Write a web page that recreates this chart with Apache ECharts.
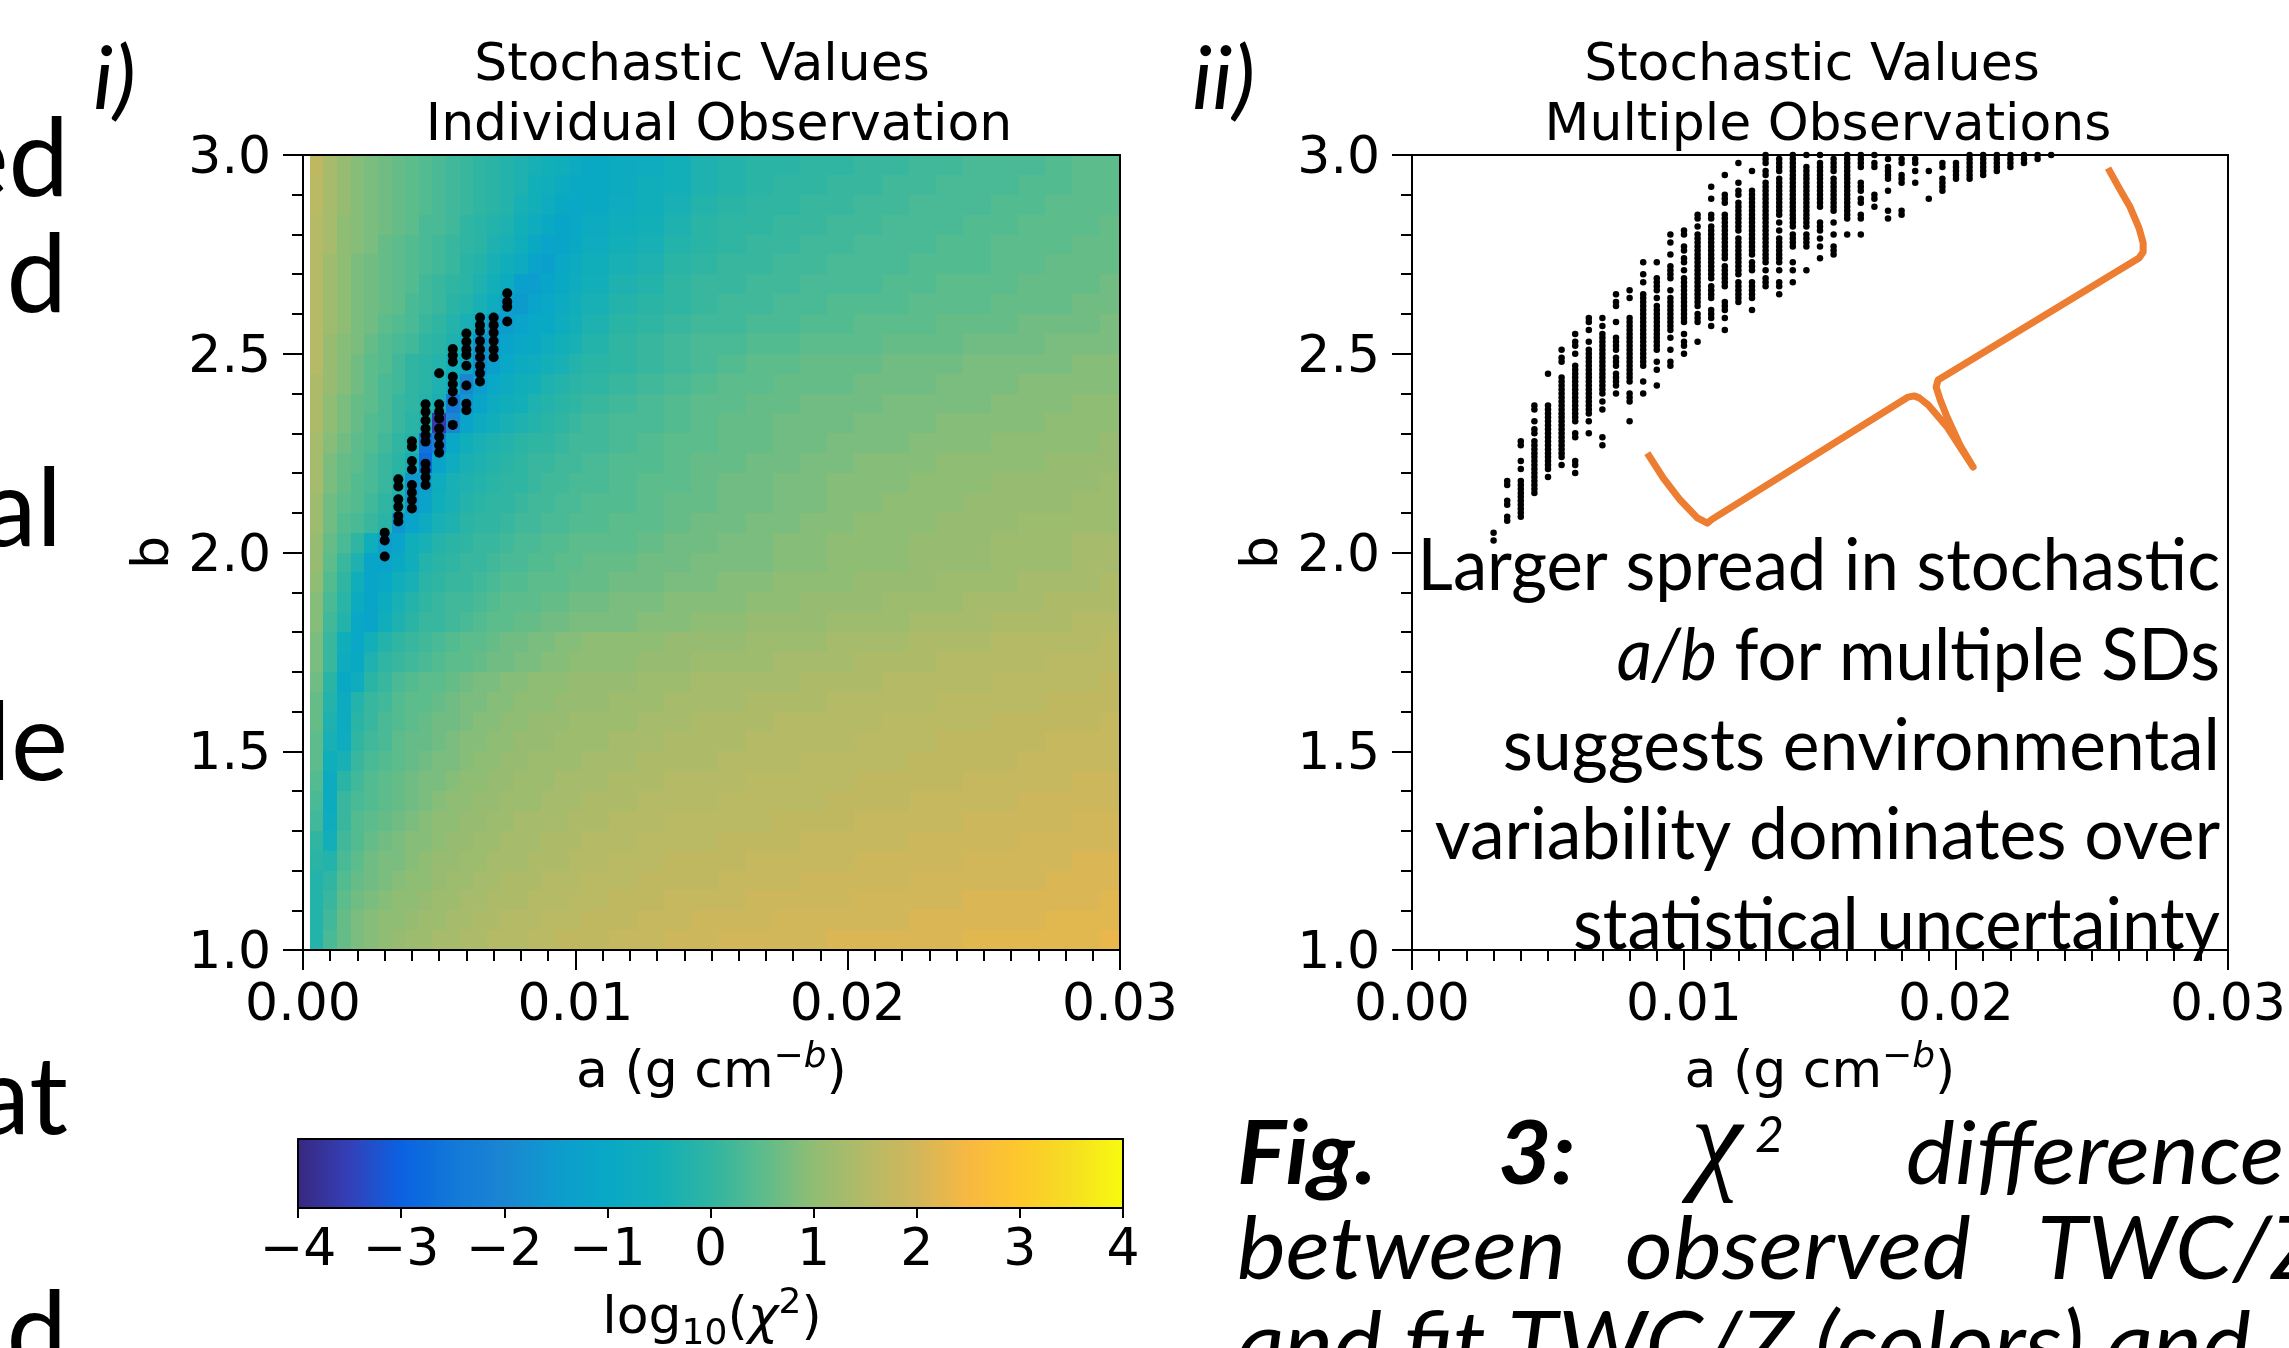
<!DOCTYPE html>
<html><head><meta charset="utf-8">
<style>html,body{margin:0;padding:0;background:#fff;overflow:hidden}#c{width:2289px;height:1348px}</style>
<script src="https://cdn.jsdelivr.net/npm/echarts@6/dist/echarts.min.js"></script>
</head><body><div id="c"></div>
<script>
// heat-map cell edges (a along x, b along y, top row first)
const aEdges = [.00025,.00075,.00125,.00175,.00225,.00275,.00325,.00375,.00425,.00475,.00525,.00575,.00625,.00675,.00725,.00775,.00825,.00875,.00925,.00975,.01025,
 .01125,.01225,.01325,.01425,.01525,.01625,.01725,.01825,.01925,.02025,.02125,.02225,.02325,.02425,.02525,.02625,.02725,.02825,.02925,.03];
const bEdges = [3,2.95,2.9,2.85,2.8,2.75,2.7,2.65,2.6,2.55,2.5,2.45,2.4,2.35,2.3,2.25,2.2,2.15,2.1,2.05,2,1.95,1.9,1.85,1.8,1.75,1.7,1.65,1.6,1.55,1.5,1.45,1.4,1.35,1.3,1.25,1.2,1.15,1.1,1.05,1];
// log10(chi2), in tenths; one row per b band, top row first
const logChi2Tenths = [
[17,13,11,9,8,7,6,5,4,3,2,1,0,-1,-2,-3,-4,-5,-6,-8,-9,-8,-7,-5,-3,-2,-1,-1,0,0,1,1,2,2,3,3,3,4,5,5],
[16,13,11,9,8,7,6,5,4,3,2,1,0,-1,-2,-3,-5,-6,-8,-9,-9,-8,-6,-5,-3,-2,-1,0,0,1,1,2,2,3,3,3,4,4,5,5],
[16,13,11,9,8,7,6,5,4,3,2,1,0,-1,-2,-4,-5,-7,-9,-10,-9,-7,-6,-4,-2,-1,0,0,1,1,2,2,3,3,3,4,4,5,5,5],
[15,13,10,9,8,7,6,5,3,3,2,0,-1,-2,-3,-5,-7,-9,-11,-10,-8,-6,-5,-3,-1,0,0,1,1,2,2,3,3,3,4,4,5,5,5,6],
[15,13,10,9,8,6,5,4,3,2,1,0,-1,-3,-4,-6,-9,-12,-11,-9,-7,-5,-4,-2,-1,0,1,1,2,2,3,3,3,4,4,5,5,5,6,6],
[15,12,10,8,7,6,5,4,3,2,1,-1,-2,-4,-6,-8,-12,-13,-10,-8,-6,-4,-3,-1,0,1,1,2,2,3,3,3,4,4,4,5,5,6,6,6],
[15,12,10,8,7,6,5,4,2,1,0,-1,-3,-5,-8,-13,-14,-11,-9,-7,-5,-3,-2,0,1,1,2,2,3,3,3,4,4,5,5,5,6,6,6,7],
[15,12,10,8,7,6,5,3,2,1,-1,-2,-4,-7,-14,-15,-12,-10,-8,-6,-4,-2,-1,0,1,2,2,3,3,4,4,4,5,5,5,6,6,6,7,7],
[15,12,10,8,7,5,4,3,1,0,-2,-4,-7,-16,-14,-12,-10,-9,-7,-5,-3,-1,0,1,2,2,3,3,4,4,5,5,5,6,6,6,7,7,7,8],
[15,11,9,8,6,4,3,2,0,-1,-3,-5,-17,-15,-12,-10,-9,-7,-5,-4,-2,0,1,2,3,3,4,4,5,5,5,6,6,6,7,7,7,8,8,8],
[15,11,9,7,5,4,2,0,-1,-2,-5,-9,-18,-13,-10,-8,-7,-5,-4,-2,-1,0,1,2,3,4,5,5,6,6,6,7,7,7,8,8,8,8,9,9],
[14,11,9,7,5,3,2,0,-1,-3,-7,-20,-14,-10,-8,-6,-5,-3,-2,-1,0,1,2,3,4,5,5,6,6,6,7,7,7,8,8,8,9,9,9,9],
[14,10,8,6,5,3,1,0,-2,-4,-24,-16,-11,-8,-6,-5,-3,-2,-1,0,1,2,3,4,5,5,6,6,7,7,7,8,8,8,8,9,9,9,10,10],
[14,10,8,6,4,3,1,-1,-3,-36,-20,-12,-8,-6,-4,-3,-2,-1,0,1,2,3,3,4,5,6,6,7,7,7,8,8,8,9,9,9,9,10,10,10],
[13,9,7,5,4,2,0,-2,-26,-22,-10,-6,-4,-3,-2,-1,0,0,1,2,2,3,4,5,5,6,6,7,7,8,8,8,9,9,9,10,10,10,10,11],
[13,8,6,5,3,1,-1,-5,-28,-12,-7,-4,-3,-2,-1,0,1,1,2,2,3,4,4,5,6,6,7,7,8,8,9,9,9,10,10,10,10,11,11,11],
[13,8,6,4,3,1,-2,-16,-14,-7,-4,-3,-2,-1,0,0,1,2,2,3,3,4,5,5,6,7,7,8,8,9,9,9,10,10,10,11,11,11,11,12],
[12,7,5,4,2,0,-3,-16,-12,-6,-4,-2,-1,0,0,1,2,2,3,3,4,4,5,6,6,7,7,8,8,9,9,10,10,10,11,11,11,11,12,12],
[12,7,4,3,1,-1,-16,-12,-8,-4,-3,-1,0,0,1,2,2,3,3,4,4,5,5,6,7,7,8,8,9,9,10,10,10,11,11,11,12,12,12,12],
[11,6,3,0,-6,-14,-12,-6,-4,-2,-1,0,1,1,2,3,3,4,4,5,5,5,6,7,7,8,8,9,9,10,10,10,11,11,11,12,12,12,13,13],
[11,5,1,-3,-11,-12,-9,-6,-2,-1,0,1,1,2,3,3,4,4,5,5,6,6,7,7,8,8,8,9,9,10,10,10,11,11,11,12,12,12,13,13],
[10,4,0,-6,-11,-10,-6,-4,-1,0,1,1,2,3,4,4,5,5,5,6,6,7,7,8,8,9,9,10,10,10,11,11,11,12,12,12,13,13,13,14],
[9,3,-1,-8,-11,-8,-4,-2,0,1,2,2,3,4,5,5,5,6,6,7,7,8,8,9,9,9,10,10,11,11,11,12,12,12,13,13,13,14,14,14],
[9,2,-2,-10,-11,-6,-3,-1,1,1,2,3,4,5,5,6,6,7,7,8,8,8,9,9,10,10,11,11,11,12,12,12,13,13,13,14,14,14,15,15],
[8,1,-6,-10,-5,-2,0,1,2,3,4,5,5,6,7,7,8,8,9,9,10,10,10,11,11,11,12,12,12,13,13,13,14,14,14,15,15,15,15,16],
[8,1,-7,-9,-3,0,1,2,3,4,5,5,6,7,7,8,8,9,9,10,10,10,11,11,12,12,12,13,13,13,14,14,14,15,15,15,15,16,16,16],
[7,-1,-9,-7,-1,1,3,4,5,5,6,7,8,8,9,9,10,10,10,11,11,11,12,12,13,13,13,13,14,14,14,15,15,15,15,16,16,16,16,17],
[6,-2,-8,-2,1,2,4,5,5,6,7,8,8,9,9,10,10,10,11,11,11,12,12,13,13,13,14,14,14,15,15,15,15,16,16,16,16,17,17,17],
[6,-3,-8,-1,1,3,4,5,6,7,7,8,9,9,10,10,11,11,11,12,12,12,13,13,14,14,14,15,15,15,15,16,16,16,16,17,17,17,17,18],
[5,-4,-7,0,2,3,5,6,6,7,8,9,9,10,10,11,11,11,12,12,12,13,13,14,14,14,15,15,15,15,16,16,16,17,17,17,17,18,18,18],
[5,-6,-4,1,3,4,5,6,7,8,8,9,10,10,11,11,12,12,12,12,13,13,14,14,14,15,15,15,16,16,16,16,17,17,17,17,18,18,18,18],
[4,-8,-1,2,4,5,6,7,8,8,9,10,10,11,11,12,12,12,13,13,13,14,14,15,15,15,16,16,16,16,17,17,17,17,18,18,18,18,19,19],
[3,-8,1,3,4,5,6,7,8,9,10,10,11,11,12,12,12,13,13,13,14,14,15,15,15,16,16,16,16,17,17,17,18,18,18,18,19,19,19,19],
[2,-7,1,4,5,6,7,8,9,10,10,11,11,12,12,13,13,13,13,14,14,15,15,16,16,16,16,17,17,17,18,18,18,18,19,19,19,19,20,20],
[0,-5,2,4,6,7,8,9,9,10,11,11,12,12,13,13,13,14,14,14,15,15,16,16,16,17,17,17,18,18,18,18,19,19,19,19,20,20,20,20],
[-1,-2,3,5,7,8,8,9,10,11,11,12,12,13,13,13,14,14,14,15,15,16,16,17,17,17,18,18,18,18,19,19,19,19,20,20,20,20,21,21],
[-2,0,4,6,7,8,9,10,10,11,12,12,13,13,14,14,14,15,15,15,16,16,17,17,17,18,18,18,19,19,19,19,20,20,20,20,20,21,21,21],
[-2,1,5,7,8,9,10,10,11,12,12,13,13,14,14,14,15,15,15,16,16,17,17,18,18,18,19,19,19,19,20,20,20,20,21,21,21,21,21,22],
[-2,2,6,8,9,10,10,11,12,12,13,13,14,14,15,15,15,16,16,16,17,17,18,18,19,19,19,20,20,20,20,20,21,21,21,21,21,22,22,22],
[-2,3,6,8,9,10,11,12,12,13,13,14,14,15,15,15,16,16,17,17,17,18,18,19,19,20,20,20,20,21,21,21,21,21,22,22,22,22,22,23]
];
// colours of the colour bar from -4 to 4, evenly spaced
const colorRamp = ['#38287f','#3440b8','#0a62e2','#1278d8','#1a86d2','#0d9bce','#08a8c6','#12afb8','#2fb5a2','#5cbc8c','#90bd74','#b4ba66','#d2b65a','#f8b842','#fdc82c','#f6de22','#f8fa0e'];
// panel i: stochastic (a, b) for the individual observation: [a, [b, ...]]
const singleColumns = [
[.003,[2.05,2.03,1.99]],
[.0035,[2.184,2.166,2.134,2.115,2.092,2.078]],
[.004,[2.28,2.266,2.23,2.209,2.17,2.151,2.132,2.111]],
[.0045,[2.373,2.354,2.332,2.312,2.295,2.279,2.223,2.206,2.189,2.17]],
[.005,[2.451,2.373,2.354,2.337,2.312,2.291,2.27,2.251]],
[.0055,[2.512,2.496,2.48,2.442,2.424,2.405,2.38,2.321]],
[.006,[2.551,2.53,2.511,2.497,2.47,2.42,2.374,2.358]],
[.0065,[2.591,2.572,2.557,2.532,2.511,2.491,2.47,2.451,2.43]],
[.007,[2.591,2.572,2.553,2.532,2.511,2.491]],
[.0075,[2.652,2.631,2.618,2.581]]
];
// panel ii: for each a, the b values or [high, low] runs of b on the 0.01 grid
const multiColumns = [
[.003,[2.05,2.03]],
[.0035,[[2.18,2.17],[2.13,2.12],[2.09,2.08]]],
[.004,[[2.28,2.27],2.23,2.21,[2.18,2.09]]],
[.0045,[[2.37,2.36],2.33,[2.31,2.30],[2.28,2.15]]],
[.005,[2.45,[2.37,2.21],2.19]],
[.0055,[2.51,[2.49,2.48],[2.44,2.24],2.22]],
[.006,[2.55,[2.53,2.52],2.50,[2.47,2.33],[2.30,2.29],[2.23,2.22],2.20]],
[.0065,[[2.59,2.58],2.56,2.53,[2.51,2.35],2.33,2.30]],
[.007,[2.59,2.57,[2.55,2.40],2.38,2.36,2.29,2.27]],
[.0075,[2.65,[2.63,2.62],2.58,[2.54,2.51],[2.49,2.47],[2.45,2.42],2.40]],
[.008,[2.66,2.64,[2.59,2.46],[2.45,2.43],[2.40,2.38],2.33]],
[.0085,[2.73,2.70,2.68,[2.65,2.47],2.43,2.40]],
[.009,[2.73,[2.69,2.66],2.64,[2.62,2.51],2.48,2.46,2.42]],
[.0095,[2.80,2.78,2.75,[2.72,2.69],2.66,[2.64,2.56],2.54,2.51,[2.48,2.47]]],
[.01,[[2.81,2.80],[2.77,2.76],[2.74,2.73],2.71,[2.69,2.65],[2.64,2.58],2.55,[2.53,2.52],2.50]],
[.0105,[[2.85,2.84],2.82,[2.80,2.71],[2.70,2.62],[2.60,2.58],2.53]],
[.011,[2.92,2.89,[2.85,2.84],[2.82,2.75],[2.74,2.69],[2.67,2.64],[2.61,2.59],2.57]],
[.0115,[2.95,[2.90,2.88],[2.85,2.74],[2.72,2.67],[2.63,2.61],2.59,2.56]],
[.012,[2.98,2.93,[2.91,2.90],[2.88,2.81],[2.79,2.70],[2.68,2.63]]],
[.0125,[2.96,[2.91,2.75],[2.73,2.71],[2.68,2.64],2.61]],
[.013,[[3.00,2.98],[2.96,2.95],[2.93,2.73],2.71,[2.69,2.67]]],
[.0135,[[2.99,2.96],[2.94,2.85],2.83,2.81,[2.79,2.73],2.71,[2.68,2.67],2.65]],
[.014,[[3.00,2.94],[2.93,2.82],[2.80,2.77],2.73,2.71,2.68]],
[.0145,[3.00,[2.97,2.82],[2.80,2.77],2.71]],
[.015,[3.00,[2.98,2.87],[2.83,2.81],2.79,2.77,2.74]],
[.0155,[[2.99,2.96],[2.94,2.89],[2.88,2.86],2.83,2.80,[2.77,2.75]]],
[.016,[[3.00,2.84],2.80]],
[.0165,[[3.00,2.97],[2.93,2.91],[2.89,2.88],[2.85,2.84],2.80]],
[.017,[3.00,[2.98,2.97],[2.90,2.89],2.87]],
[.0175,[2.99,[2.97,2.94],2.91,2.86,2.84]],
[.018,[[2.99,2.98],[2.95,2.93],[2.86,2.85]]],
[.0185,[[2.99,2.98],2.96,2.93]],
[.019,[2.96,2.89]],
[.0195,[[2.98,2.97],[2.94,2.91]]],
[.02,[[2.98,2.94]]],
[.0205,[[3.00,2.94]]],
[.021,[[3.00,2.95]]],
[.0215,[[3.00,2.96]]],
[.022,[[3.00,2.97]]],
[.0225,[[3.00,2.98]]],
[.023,[[3.00,2.99]]],
[.0235,[3.00]]
];
// orange curly bracket in panel ii, in data units [a, b]
const bracket = [[.02559,2.967],[.02603,2.913],[.0264,2.869],[.02673,2.816],[.02688,2.779],[.02688,2.756],[.02673,2.741],[.01934,2.434],[.01927,2.416],[.01942,2.384],[.01967,2.341],[.02015,2.27],[.02063,2.215],[.02015,2.265],[.01967,2.316],[.01898,2.371],[.01865,2.389],[.01846,2.394],[.01824,2.391],[.01104,2.084],[.01086,2.074],[.01049,2.087],[.00986,2.132],[.00924,2.187],[.00865,2.25]];
const colorbarTicks = {min:-4,max:4};

const heatData = [];
logChi2Tenths.forEach((row,r)=>row.forEach((v,c)=>heatData.push([aEdges[c],aEdges[c+1],bEdges[r+1],bEdges[r],v/10])));
const singleData = [];
singleColumns.forEach(([a,bs])=>bs.forEach(b=>singleData.push([a,b])));
const multiData = [];
multiColumns.forEach(([a,items])=>items.forEach(it=>{
  if(Array.isArray(it)){for(let k=Math.round(it[0]*100);k>=Math.round(it[1]*100);k--)multiData.push([a,k/100]);}
  else multiData.push([a,it]);
}));

const DJ='DejaVu Sans', SANS='Lato', TICK=52;
const xAxisBase=(g)=>({type:'value',gridIndex:g,min:0,max:.03,interval:.01,z:5,splitLine:{show:false},
  axisLine:{show:true,onZero:false,lineStyle:{color:'#000',width:2}},
  axisTick:{show:true,length:20,inside:false,lineStyle:{color:'#000',width:2}},
  minorTick:{show:true,splitNumber:10,length:11,lineStyle:{color:'#000',width:2}},
  axisLabel:{show:true,margin:30,color:'#000',fontFamily:DJ,fontSize:TICK,formatter:v=>v.toFixed(2),showMinLabel:true,showMaxLabel:true,hideOverlap:false},
  name:'a (g cm{sup|−}{supi|b}{n|)}',nameLocation:'middle',nameGap:90,
  nameTextStyle:{color:'#000',fontFamily:DJ,fontSize:TICK,rich:{
    sup:{fontFamily:DJ,fontSize:36,verticalAlign:'top',color:'#000',padding:[0,0,31,0]},
    supi:{fontFamily:DJ,fontStyle:'italic',fontSize:36,verticalAlign:'top',color:'#000',padding:[0,0,31,0]},
    n:{fontFamily:DJ,fontSize:TICK,color:'#000'}}}});
const yAxisBase=(g)=>({type:'value',gridIndex:g,min:1,max:3,interval:.5,z:5,splitLine:{show:false},
  axisLine:{show:true,onZero:false,lineStyle:{color:'#000',width:2}},
  axisTick:{show:true,length:20,lineStyle:{color:'#000',width:2}},
  minorTick:{show:true,splitNumber:5,length:11,lineStyle:{color:'#000',width:2}},
  axisLabel:{show:true,margin:32,color:'#000',fontFamily:DJ,fontSize:TICK,formatter:v=>'{v|'+v.toFixed(1)+'}',
    rich:{v:{fontFamily:DJ,fontSize:TICK,color:'#000',padding:[9,0,0,0]}},showMinLabel:true,showMaxLabel:true,hideOverlap:false},
  name:'b',nameLocation:'middle',nameRotate:90,nameGap:123,
  nameTextStyle:{color:'#000',fontFamily:DJ,fontSize:TICK}});
const spine=(g,pos,type)=>({type:'value',gridIndex:g,position:pos,z:5,splitLine:{show:false},axisTick:{show:false},axisLabel:{show:false},minorTick:{show:false},
  axisLine:{show:true,onZero:false,lineStyle:{color:'#000',width:2}},
  ...(type==='x'?{min:0,max:.03}:{min:1,max:3})});

const titleLine=(text,cx,top)=>({text,left:cx,top,textAlign:'center',padding:0,itemGap:0,textStyle:{color:'#000',fontFamily:DJ,fontSize:TICK,fontWeight:'normal'}});

// free text helper: x anchor, baseline y
const txt=(text,x,base,size,o={})=>({type:'text',x,y:base-size*(o.k??0.29),z:50,silent:true,scaleX:o.sx??1,style:{text,fontFamily:o.f??SANS,fontSize:size,fontStyle:o.i?'italic':'normal',fontWeight:o.w??'normal',fill:'#000',textAlign:o.a??'left',textVerticalAlign:'middle',rich:o.rich}});
const CAP=88, NOTE=72, BIG=108;
const graphics=[
 txt('ed',69,192,BIG,{a:'right'}),txt('d',67,308,BIG,{a:'right'}),txt('al',62,542,BIG,{a:'right'}),
 txt('le',68,776,BIG,{a:'right'}),txt('at',68,1130,BIG,{a:'right'}),txt('d',67,1365,BIG,{a:'right'}),
 txt('i)',93,106,88,{i:1}),txt('ii)',1192,106,88,{i:1}),
 txt('Larger spread in stochastic',2220,588,NOTE,{a:'right',sx:.955}),
 txt('{i|a/b} for multiple SDs',2220,678,NOTE,{a:'right',sx:.955,rich:{i:{fontStyle:'italic',fontFamily:SANS,fontSize:NOTE,fill:'#000'}}}),
 txt('suggests environmental',2220,768,NOTE,{a:'right',sx:.965}),
 txt('variability dominates over',2220,857,NOTE,{a:'right',sx:.968}),
 txt('statistical uncertainty',2220,947,NOTE,{a:'right',sx:.955}),
 txt('Fig.',1237,1181,CAP,{i:1,w:'bold',sx:1.05}),txt('3:',1498,1181,CAP,{i:1,w:'bold',sx:1.05}),
 txt('χ',1691,1181,116,{i:1,f:'Liberation Serif'}),txt('2',1755,1150,50,{i:1}),
 txt('difference',1906,1181,CAP,{i:1,sx:1.05}),
 txt('between',1237,1276,CAP,{i:1,sx:1.05}),txt('observed',1625,1276,CAP,{i:1,sx:1.05}),txt('TWC/Z',2037,1276,CAP,{i:1,sx:1.05}),
 txt('and fit TWC/Z (colors) and',1237,1371,CAP,{i:1,sx:1.05}),
 {type:'text',x:712,y:1353,z:50,silent:true,style:{text:'log{s|10}({c|χ}{p|2})',fontFamily:DJ,fontSize:TICK,fill:'#000',textAlign:'center',textVerticalAlign:'bottom',
   rich:{s:{fontFamily:DJ,fontSize:36,verticalAlign:'bottom',fill:'#000',padding:[20,0,0,0]},
         c:{fontFamily:DJ,fontStyle:'italic',fontSize:TICK,fill:'#000'},
         p:{fontFamily:DJ,fontSize:36,verticalAlign:'top',fill:'#000',padding:[0,0,31,0]}}}}
];

const chart=echarts.init(document.getElementById('c'),null,{renderer:'canvas',width:2289,height:1348});
chart.setOption({
 animation:false,backgroundColor:'#fff',
 title:[titleLine('Stochastic Values',702,40),titleLine('Individual Observation',719,100),titleLine('Stochastic Values',1812,40),titleLine('Multiple Observations',1828,100)],
 grid:[{left:303,top:155,width:817,height:795,containLabel:false},{left:1412,top:155,width:816,height:795},{left:298,top:1139,width:825,height:69}],
 xAxis:[xAxisBase(0),spine(0,'top','x'),xAxisBase(1),spine(1,'top','x'),
  {type:'value',gridIndex:2,min:colorbarTicks.min,max:colorbarTicks.max,interval:1,z:8,splitLine:{show:false},
   axisLine:{show:true,onZero:false,lineStyle:{color:'#000',width:2}},axisTick:{show:true,length:10,lineStyle:{color:'#000',width:2}},minorTick:{show:false},
   axisLabel:{show:true,margin:17,color:'#000',fontFamily:DJ,fontSize:TICK,formatter:v=>String(v).replace('-','−'),showMinLabel:true,showMaxLabel:true,hideOverlap:false}},
  {type:'value',gridIndex:2,position:'top',min:-4,max:4,z:8,splitLine:{show:false},axisTick:{show:false},axisLabel:{show:false},axisLine:{show:true,onZero:false,lineStyle:{color:'#000',width:2}}}],
 yAxis:[yAxisBase(0),spine(0,'right','y'),yAxisBase(1),spine(1,'right','y'),
  {type:'value',gridIndex:2,min:0,max:1,z:8,splitLine:{show:false},axisTick:{show:false},axisLabel:{show:false},axisLine:{show:true,onZero:false,lineStyle:{color:'#000',width:2}}},
  {type:'value',gridIndex:2,position:'right',min:0,max:1,z:8,splitLine:{show:false},axisTick:{show:false},axisLabel:{show:false},axisLine:{show:true,onZero:false,lineStyle:{color:'#000',width:2}}}],
 visualMap:[{type:'continuous',seriesIndex:0,dimension:4,min:-4,max:4,orient:'horizontal',left:298,top:1139,itemWidth:69,itemHeight:825,padding:0,
   calculable:false,realtime:false,hoverLink:false,showLabel:false,text:null,inRange:{color:colorRamp}}],
 series:[
  {type:'custom',xAxisIndex:0,yAxisIndex:0,data:heatData,encode:{x:[0,1],y:[2,3]},clip:true,z:2,silent:true,
   renderItem:(p,api)=>{
     const s=api.coord([api.value(0),api.value(3)]),e=api.coord([api.value(1),api.value(2)]);
     const x=Math.round(s[0]),y=Math.round(s[1]),x2=Math.round(e[0]),y2=Math.round(e[1]);
     return {type:'rect',shape:{x,y,width:x2-x,height:y2-y},style:{fill:api.visual('color')}};
   }},
  {type:'scatter',xAxisIndex:0,yAxisIndex:0,data:singleData,symbol:'circle',symbolSize:10,itemStyle:{color:'#000',opacity:1},z:4,silent:true},
  {type:'scatter',xAxisIndex:2,yAxisIndex:2,data:multiData,symbol:'circle',symbolSize:6.5,itemStyle:{color:'#000',opacity:1},z:4,silent:true,large:false},
  {type:'line',xAxisIndex:2,yAxisIndex:2,data:bracket,symbol:'none',smooth:false,clip:false,lineStyle:{color:'#ED7D31',width:7,join:'round',cap:'butt'},z:3,silent:true}
 ],
 graphic:{elements:graphics}
});
</script></body></html>
